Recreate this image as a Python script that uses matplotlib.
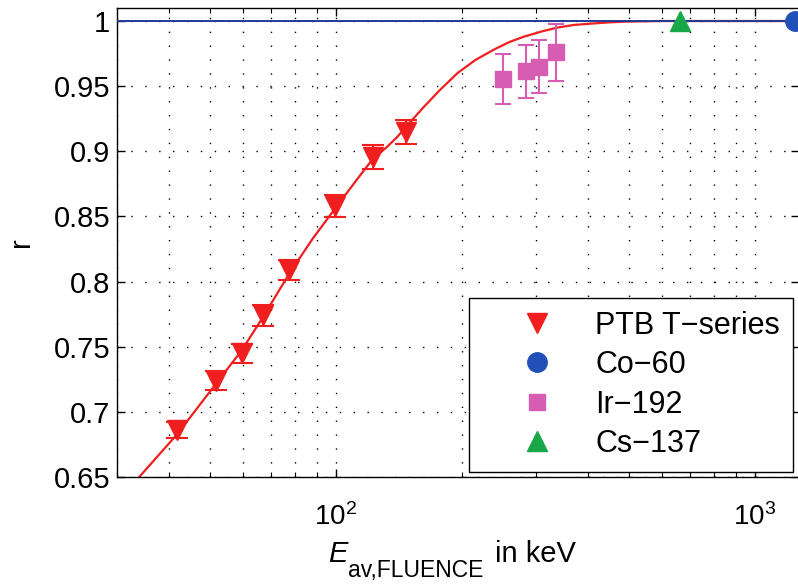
import numpy as np
import matplotlib
matplotlib.use("Agg")
import matplotlib.pyplot as plt
from matplotlib.lines import Line2D
from matplotlib.ticker import LogLocator, NullFormatter

plt.rcParams['font.family'] = ['Liberation Sans', 'DejaVu Sans']
plt.rcParams['mathtext.fontset'] = 'custom'
plt.rcParams['mathtext.rm'] = 'Liberation Sans'
plt.rcParams['mathtext.it'] = 'Liberation Sans:italic'

# PTB T-series
ptb_E = [41.8, 51.8, 59.5, 67.0, 77.3, 99.6, 122.9, 146.9]
ptb_r = [0.686, 0.724, 0.745, 0.774, 0.809, 0.858, 0.896, 0.915]
ptb_err = [0.0061, 0.0070, 0.0074, 0.0080, 0.0077, 0.0087, 0.0092, 0.0093]

# Ir-192
ir_E = [251, 284, 305, 335]
ir_r = [0.9556, 0.9613, 0.9648, 0.976]
ir_err = [0.0194, 0.0200, 0.0204, 0.0219]

# Cs-137 and Co-60
cs_E = [662]
cs_r = [1.0]
co_E = [1250]
co_r = [1.0]

# fitted curve, points
fit_E = [33.9, 41.8, 51.8, 59.5, 67.0, 77.3, 88, 100, 112, 123, 132, 140,
         150, 162, 177, 195, 215, 238, 260, 281, 310, 338, 370, 406, 450,
         489, 550, 600, 800, 1300]
fit_r = [0.65, 0.683, 0.722, 0.747, 0.773, 0.806, 0.833, 0.857, 0.878,
         0.895, 0.903, 0.911, 0.922, 0.934, 0.947, 0.960, 0.970, 0.978,
         0.984, 0.988, 0.992, 0.995, 0.997, 0.998, 0.999, 0.9995, 0.9998,
         1.0, 1.0, 1.0]

red = '#f01e1e'
mag = '#d65db1'
blue = '#2050b8'
green = '#18a84a'

W, H = 798, 584
fig = plt.figure(figsize=(W/100, H/100), dpi=100)
ax = fig.add_axes([117/W, 107/H, 682/W, 469/H])

ax.set_xscale('log')
ax.set_xlim(30, 1275)
ax.set_ylim(0.65, 1.01)

ax.axhline(1.0, color='#233a98', lw=1.4, zorder=3)
ax.plot(fit_E, fit_r, color=red, lw=1.6, zorder=2)

ax.errorbar(ptb_E, ptb_r, yerr=ptb_err, fmt='v', color=red, ms=15,
            mec=red, elinewidth=1.5, capsize=8, capthick=1.5, zorder=4)
ax.errorbar(ir_E, ir_r, yerr=ir_err, fmt='s', color=mag, ms=12,
            mec=mag, elinewidth=1.5, capsize=6, capthick=1.5, zorder=4)
ax.plot(cs_E, cs_r, '^', color=green, ms=15, zorder=5)
ax.plot(co_E, co_r, 'o', color=blue, ms=14, zorder=5, clip_on=False)

ax.set_yticks([0.65, 0.7, 0.75, 0.8, 0.85, 0.9, 0.95, 1.0])
ax.set_yticklabels(['0.65', '0.7', '0.75', '0.8', '0.85', '0.9', '0.95', '1'])
ax.xaxis.set_minor_locator(LogLocator(base=10, subs=np.arange(2, 10)))
ax.xaxis.set_minor_formatter(NullFormatter())

ax.tick_params(which='both', direction='in', top=True, right=True)
ax.tick_params(axis='y', labelsize=21, pad=5)
ax.tick_params(axis='x', labelsize=20, pad=19)
ax.tick_params(which='major', length=6, width=1)
ax.tick_params(which='minor', length=3.5, width=0.8)
for s in ax.spines.values():
    s.set_linewidth(1.0)

dots = (0, (1, 9))
ax.grid(True, which='major', axis='both', color='k', lw=1.0, linestyle=dots)
ax.grid(True, which='minor', axis='x', color='k', lw=1.0, linestyle=dots)

# x label: italic E with a large, low subscript, as in the original
fig.text(328/W, (H-562)/H, 'E', fontsize=21, style='italic', va='baseline')
fig.text(348/W, (H-577)/H, 'av,FLUENCE', fontsize=16.5, va='baseline')
fig.text(495/W, (H-562)/H, 'in keV', fontsize=21, va='baseline')
ax.set_ylabel('r', fontsize=21, labelpad=13)

handles = [
    Line2D([], [], ls='none', marker='v', color=red, ms=15),
    Line2D([], [], ls='none', marker='o', color=blue, ms=14),
    Line2D([], [], ls='none', marker='s', color=mag, ms=12),
    Line2D([], [], ls='none', marker='^', color=green, ms=15),
]
labels = ['PTB T\u2212series', 'Co\u221260', 'Ir\u2212192', 'Cs\u2212137']
leg = ax.legend(handles, labels, loc='upper right',
                bbox_to_anchor=(0.991, 0.382), fontsize=22, frameon=True,
                fancybox=False, framealpha=1, edgecolor='k',
                handlelength=3.6, handletextpad=0.1, labelspacing=0.31,
                borderpad=0.42, borderaxespad=0)
leg.get_frame().set_linewidth(1.0)
leg.set_zorder(10)

fig.savefig('out.png', dpi=100)
